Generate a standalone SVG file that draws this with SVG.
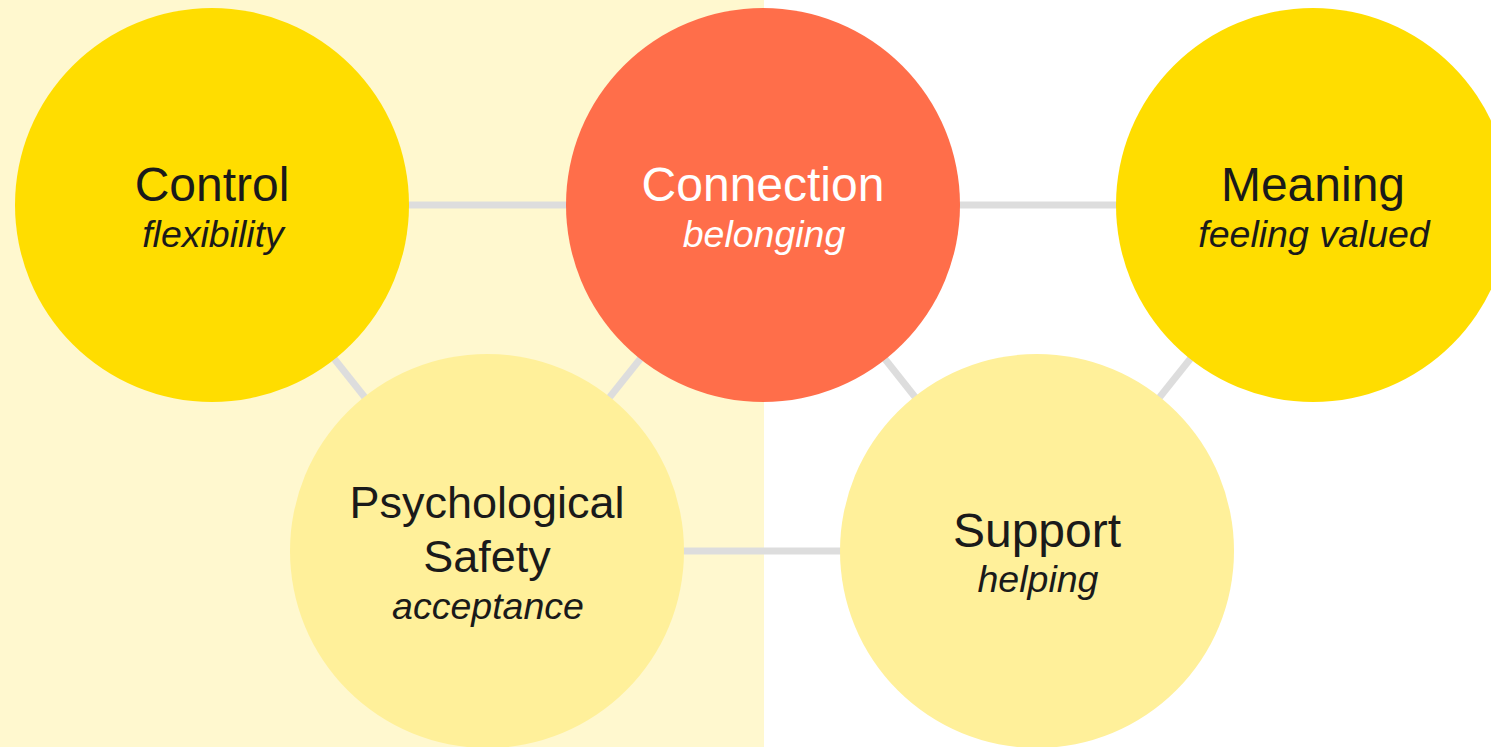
<svg xmlns="http://www.w3.org/2000/svg" width="1491" height="747" viewBox="0 0 1491 747">
  <style>
    .bg { fill: #ffffff; }
    .band { fill: #FFF8CF; }
    .link { stroke: #DDDDDD; stroke-width: 7; fill: none; }
    .strong { fill: #FFDD00; }
    .accent { fill: #FF6E4A; }
    .soft { fill: #FFF09A; }
    .title { font-family: "Liberation Sans", Arial, sans-serif; font-size: 48px; fill: #1A1A1A; text-anchor: middle; }
    .sub { font-family: "Liberation Sans", Arial, sans-serif; font-size: 37.5px; font-style: italic; fill: #1A1A1A; text-anchor: middle; }
    .light { fill: #FFFFFF; }
  </style>

  <!-- backdrop: white page with a pale band on the left half -->
  <rect class="bg" x="0" y="0" width="1491" height="747"/>
  <rect class="band" x="0" y="0" width="764" height="747"/>

  <!-- links between circle centres -->
  <g id="connectors">
    <line class="link" x1="212" y1="205" x2="763" y2="205"/>
    <line class="link" x1="763" y1="205" x2="1313" y2="205"/>
    <line class="link" x1="487" y1="551" x2="1037" y2="551"/>
    <line class="link" x1="212" y1="205" x2="487" y2="551"/>
    <line class="link" x1="763" y1="205" x2="487" y2="551"/>
    <line class="link" x1="763" y1="205" x2="1037" y2="551"/>
    <line class="link" x1="1313" y1="205" x2="1037" y2="551"/>
  </g>

  <g id="control">
    <circle class="strong" cx="212" cy="205" r="197"/>
    <text class="title" x="212" y="201">Control</text>
    <text class="sub" x="213" y="247">flexibility</text>
  </g>

  <g id="connection">
    <circle class="accent" cx="763" cy="205" r="197"/>
    <text class="title light" x="763" y="201">Connection</text>
    <text class="sub light" x="764" y="247">belonging</text>
  </g>

  <g id="meaning">
    <circle class="strong" cx="1313" cy="205" r="197"/>
    <text class="title" x="1313" y="201">Meaning</text>
    <text class="sub" x="1314" y="247">feeling valued</text>
  </g>

  <g id="psychological-safety">
    <circle class="soft" cx="487" cy="551" r="197"/>
    <text class="title" x="487" y="518" style="font-size:45px">Psychological</text>
    <text class="title" x="487" y="572" style="font-size:45px">Safety</text>
    <text class="sub" x="488" y="619">acceptance</text>
  </g>

  <g id="support">
    <circle class="soft" cx="1037" cy="551" r="197"/>
    <text class="title" x="1037" y="547">Support</text>
    <text class="sub" x="1038" y="592">helping</text>
  </g>
</svg>
